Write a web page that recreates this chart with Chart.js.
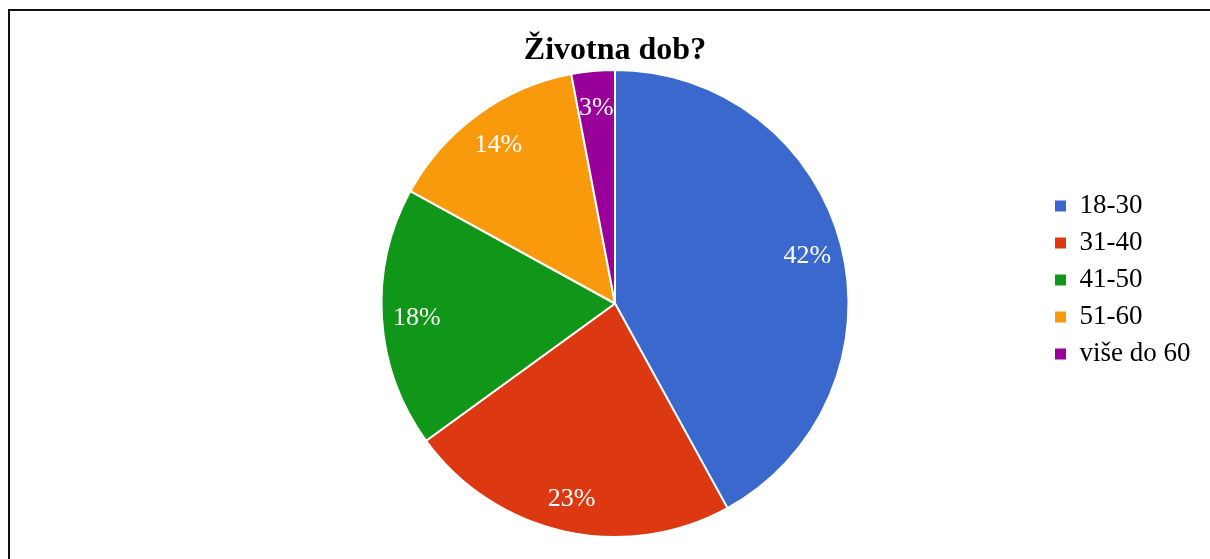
<!DOCTYPE html>
<html><head><meta charset="utf-8">
<script src="https://cdn.jsdelivr.net/npm/chart.js@4"></script>
<style>
html,body{margin:0;padding:0;background:#fff;}
body{width:1210px;height:559px;overflow:hidden;position:relative;}
#frame{position:absolute;left:8px;top:9px;width:1400px;height:800px;border-left:2px solid #111;border-top:2px solid #111;}
#wrap{position:absolute;left:0;top:0;width:1210px;height:559px;}
</style></head><body>
<div id="frame"></div>
<div id="wrap"><canvas id="c" width="1210" height="559"></canvas></div>
<script>
const categories = ['18-30', '31-40', '41-50', '51-60', 'više do 60'];
const values = [42, 23, 18, 14, 3];
const colors = ['#3A68CC', '#DC3912', '#109618', '#F99A0D', '#990099'];
const chartTitle = 'Životna dob?';

const serif = '"Liberation Serif", "Times New Roman", serif';
Chart.defaults.font.family = serif;

const pieLabels = {
  id: 'pieLabels',
  afterDatasetsDraw(chart) {
    const ctx = chart.ctx;
    const meta = chart.getDatasetMeta(0);
    const total = values.reduce((a, b) => a + b, 0);
    ctx.save();
    ctx.font = '26px ' + serif;
    ctx.fillStyle = '#ffffff';
    ctx.textAlign = 'center';
    ctx.textBaseline = 'middle';
    meta.data.forEach((arc, i) => {
      const p = arc.getProps(['x', 'y', 'startAngle', 'endAngle', 'outerRadius'], true);
      const a = (p.startAngle + p.endAngle) / 2;
      const r = p.outerRadius * 0.85;
      ctx.fillText(Math.round(values[i] / total * 100) + '%', p.x + Math.cos(a) * r, p.y + Math.sin(a) * r + 2);
    });
    ctx.restore();
  }
};

const placeLegend = {
  id: 'placeLegend',
  afterLayout(chart) {
    const lg = chart.legend;
    if (!lg) return;
    const h = lg.height;
    lg.left = 1045; lg.right = 1210;
    lg.top = 182.5; lg.bottom = 182.5 + h;
  }
};

new Chart(document.getElementById('c'), {
  type: 'pie',
  data: {
    labels: categories,
    datasets: [{
      data: values,
      backgroundColor: colors,
      borderColor: '#ffffff',
      borderWidth: 2,
      hoverBorderWidth: 2,
      radius: 233.5
    }]
  },
  options: {
    responsive: false,
    animation: false,
    layout: { padding: { left: 20, right: 0, top: 0, bottom: 22.2 } },
    plugins: {
      tooltip: { enabled: false },
      title: {
        display: true,
        text: chartTitle,
        color: '#000',
        font: { family: serif, size: 32, weight: 'bold', lineHeight: 1.2 },
        padding: { top: 31.8, bottom: 0 }
      },
      legend: {
        display: true,
        position: 'chartArea',
        align: 'start',
        labels: {
          color: '#000',
          font: { family: serif, size: 27 },
          boxWidth: 11,
          boxHeight: 11,
          padding: 10,
          generateLabels(chart) {
            const items = Chart.overrides.pie.plugins.legend.labels.generateLabels(chart);
            items.forEach(it => { it.lineWidth = 0; it.strokeStyle = it.fillStyle; });
            return items;
          }
        }
      }
    }
  },
  plugins: [pieLabels, placeLegend]
});
</script>
</body></html>
